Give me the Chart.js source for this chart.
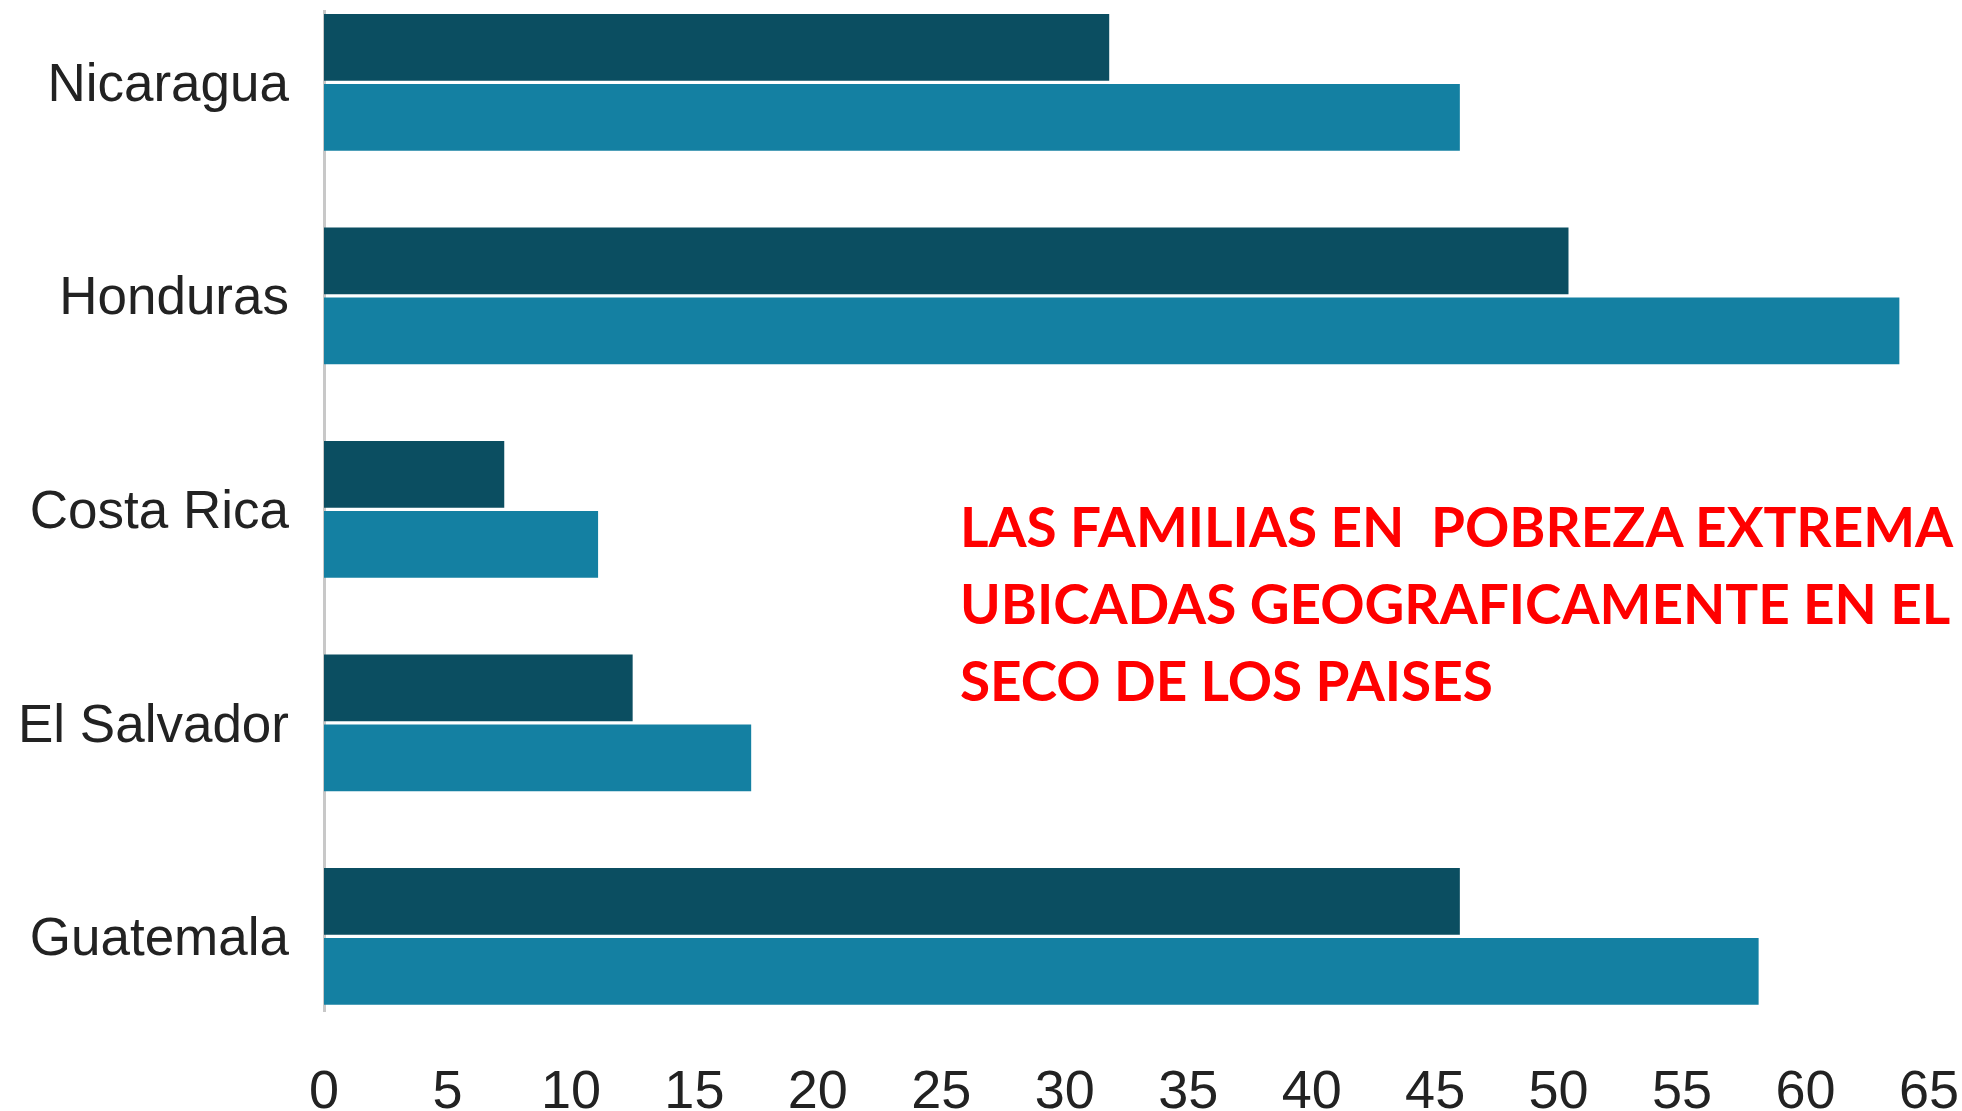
<!DOCTYPE html>
<html>
<head>
<meta charset="utf-8">
<script src="https://cdn.jsdelivr.net/npm/chart.js@4/dist/chart.umd.min.js"></script>
<style>
    body { margin: 0; background: #fff; }
    #wrap { position: relative; width: 1962px; height: 1111px; overflow: hidden; }
    #note {
        position: absolute; left: 960px; top: 487px;
        font-family: Lato, "Open Sans", sans-serif; font-weight: 700;
        font-size: 56px; line-height: 77px; color: #ff0000;
        white-space: pre;
        transform: scaleX(0.98); transform-origin: left top;
    }
</style>
</head>
<body>
<div id="wrap">
    <canvas id="povertyChart"></canvas>
    <div id="note">LAS FAMILIAS EN  POBREZA EXTREMA
UBICADAS GEOGRAFICAMENTE EN EL
SECO DE LOS PAISES</div>
</div>
<script>
const countries = ['Nicaragua', 'Honduras', 'Costa Rica', 'El Salvador', 'Guatemala'];
const darkValues = [31.8, 50.4, 7.3, 12.5, 46.0];
const lightValues = [46.0, 63.8, 11.1, 17.3, 58.1];
const xTicks = [0, 5, 10, 15, 20, 25, 30, 35, 40, 45, 50, 55, 60, 65];

document.addEventListener("DOMContentLoaded", function () {
    const canvas = document.getElementById('povertyChart');
    const ctx = canvas.getContext('2d');

    // one point per country, index used as the vertical position
    const toPoints = vals => vals.map((v, i) => ({ x: v, y: i }));

    new Chart(ctx, {
        type: 'bar',
        data: {
            datasets: [{
                data: toPoints(darkValues),
                backgroundColor: '#0b4e61',
                categoryPercentage: 0.656,
                barPercentage: 0.953
            }, {
                data: toPoints(lightValues),
                backgroundColor: '#1480a2',
                categoryPercentage: 0.656,
                barPercentage: 0.953
            }]
        },
        options: {
            indexAxis: 'y',
            responsive: true,
            maintainAspectRatio: false,
            animation: false,
            layout: { padding: { top: 11, right: 33, left: 0, bottom: 0 } },
            plugins: {
                legend: { display: false },
                tooltip: { enabled: false }
            },
            scales: {
                x: {
                    type: 'linear',
                    min: xTicks[0],
                    max: xTicks[xTicks.length - 1],
                    grid: { display: false, drawTicks: false },
                    border: { display: false },
                    afterFit: function (scale) {
                        scale.height = 100;
                        scale.paddingLeft = 0;
                        scale.paddingRight = 0;
                    },
                    afterBuildTicks: function (scale) {
                        scale.ticks = xTicks.map(v => ({ value: v }));
                    },
                    ticks: {
                        color: '#222',
                        padding: 50,
                        maxRotation: 0,
                        autoSkip: false,
                        font: { family: '"Liberation Sans", Arial, sans-serif', size: 54 }
                    }
                },
                y: {
                    type: 'linear',
                    reverse: true,
                    offset: false,
                    min: -0.334,
                    max: 4.349,
                    grid: { display: false, drawTicks: false, offset: false },
                    border: { display: true, color: '#c8c8c8', width: 3 },
                    afterFit: function (scale) {
                        scale.width = 324;
                        scale.paddingTop = 0;
                        scale.paddingBottom = 0;
                    },
                    afterBuildTicks: function (scale) {
                        scale.ticks = countries.map((c, i) => ({ value: i }));
                    },
                    ticks: {
                        color: '#222',
                        padding: 35,
                        labelOffset: 4,
                        autoSkip: false,
                        font: { family: '"Liberation Sans", Arial, sans-serif', size: 53 },
                        callback: function (value) {
                            return countries[value];
                        }
                    }
                }
            }
        }
    });
});
</script>
</body>
</html>
